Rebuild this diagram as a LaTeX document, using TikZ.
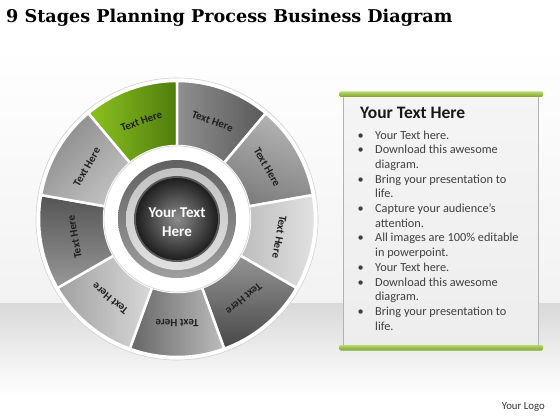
\documentclass[tikz,border=0pt]{standalone}
\usepackage{xcolor}
\usepackage{fontspec}
\setmainfont{Carlito}
\newfontfamily\titlefont{DejaVu Serif}
\usetikzlibrary{positioning}

\definecolor{leafgreen}{HTML}{8DC21F}
\definecolor{darkleaf}{HTML}{4E7D0E}
\definecolor{barlight}{HTML}{B8D86E}
\definecolor{bardark}{HTML}{7DA42A}

\begin{document}
\begin{tikzpicture}[x=1pt,y=1pt,
    seglabel/.style={font=\bfseries\fontsize{11}{12}\selectfont, text=black!88},
    greenbar/.style={top color=barlight, bottom color=bardark, rounded corners=1.5pt}]
    % page and background
    \useasboundingbox (0,0) rectangle (560,-420);
    \fill[white] (0,0) rectangle (560,-420);
    \shade[top color=white, bottom color=black!5] (0,-45) rectangle (560,-303);
    \shade[top color=black!15, bottom color=white] (0,-303) rectangle (560,-395);

    \node[anchor=west, inner sep=0, font=\titlefont\bfseries\fontsize{17.6}{20}\selectfont] (title) at (6,-18) {9 Stages Planning Process Business Diagram};

    % the wheel
    \begin{scope}[shift={(177,-219)}]
        \fill[white, draw=black!18, line width=0.6pt] (0,0) circle (141);
        \foreach \a/\ctop/\cbot/\sh [count=\i] in {
            90/leafgreen/darkleaf/90,
            50/black!44/black!65/90,
            10/black!29/black!51/-20,
            -30/black!11/black!26/-90,
            -70/black!42/black!72/0,
            -110/black!26/black!60/-90,
            -150/black!15/black!37/-90,
            170/black!40/black!67/180,
            130/black!24/black!46/-135}
        {
            \shade[top color=\ctop, bottom color=\cbot, shading angle=\sh, draw=white, line width=2.5pt]
                (\a:73) arc[start angle=\a, end angle=\a+40, radius=73]
                -- (\a+40:138) arc[start angle=\a+40, end angle=\a, radius=138] -- cycle;
            \node[seglabel, rotate=\a-70] (stage\i) at (\a+20:104) {Text Here};
        }
        % hub
        \fill[white, draw=black!15, line width=0.8pt] (0,0) circle (73);
        \shade[top color=black!62, bottom color=black!38] (0,0) circle (59);
        \shade[top color=black!24, bottom color=black!12] (0,0) circle (51);
        \fill[black!65] (0,0) circle (43);
        \shade[inner color=black!45, outer color=black!88] (0,0) circle (41);
        \node[font=\bfseries\fontsize{15}{18.5}\selectfont, text=white, align=center] (hub) at (0,-3) {Your Text\\Here};
    \end{scope}

    % text panel
    \shade[top color=black!4, bottom color=black!7, draw=black!30] (343,-96) rectangle (538,-346);
    \shade[greenbar] (339,-91.5) rectangle (543,-97);
    \shade[greenbar] (339,-345) rectangle (543,-350.5);
    \node[anchor=west, inner sep=0, font=\bfseries\fontsize{17.5}{20}\selectfont, text=black!90] (head) at (360,-113) {Your Text Here};
    \node[anchor=north west, inner sep=0, font=\fontsize{12.3}{14.7}\selectfont, text=black!75] (items) at (357.5,-128.6) {%
        \begin{tabular}{@{}p{17.5pt}@{}l@{}}
            \textbullet & Your Text here.\\
            \textbullet & Download this awesome\\
                        & diagram.\\
            \textbullet & Bring your presentation to\\
                        & life.\\
            \textbullet & Capture your audience’s\\
                        & attention.\\
            \textbullet & All images are 100\% editable\\
                        & in powerpoint.\\
            \textbullet & Your Text here.\\
            \textbullet & Download this awesome\\
                        & diagram.\\
            \textbullet & Bring your presentation to\\
                        & life.
        \end{tabular}};

    \node[anchor=east, inner sep=0, font=\fontsize{10.8}{12}\selectfont, text=black!80] (logo) at (545,-407) {Your Logo};
\end{tikzpicture}
\end{document}
